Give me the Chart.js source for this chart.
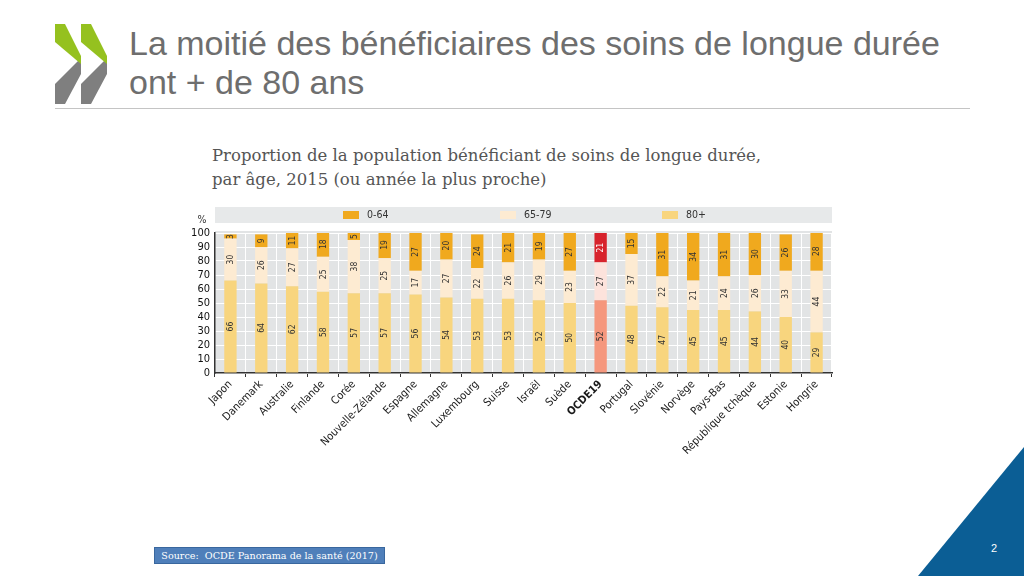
<!DOCTYPE html>
<html lang="fr">
<head>
<meta charset="utf-8">
<title>Soins de longue durée</title>
<script src="https://cdn.jsdelivr.net/npm/chart.js@4.4.1/dist/chart.umd.min.js"></script>
<style>
    html, body { margin: 0; padding: 0; background: #fff; }
    body { width: 1024px; height: 576px; position: relative; overflow: hidden; font-family: 'Liberation Sans', Arial, sans-serif; }
    #decor { position: absolute; left: 0; top: 0; }
    .titre { position: absolute; left: 129px; top: 24px; font-size: 34px; line-height: 39px; color: #6e6e6e; white-space: nowrap; }
    .filet { position: absolute; left: 55px; top: 108px; width: 915px; height: 1px; background: #c4c4c4; }
    .sous-titre { position: absolute; left: 212px; top: 144px; font-family: 'DejaVu Serif', Georgia, serif; font-size: 16.5px; line-height: 24px; color: #555; white-space: nowrap; }
    #cadre { position: absolute; left: 185px; top: 200px; width: 650px; height: 265px; }
    .source { position: absolute; left: 154px; top: 547px; width: 229px; height: 15px; background: #4f7fba; border: 1px solid #39679e;
              color: #fff; font-family: 'DejaVu Serif', Georgia, serif; font-size: 9.6px; line-height: 15px; text-align: center; white-space: nowrap; }
    .page { position: absolute; left: 991px; top: 542px; color: #fff; font-size: 11px; }
</style>
</head>
<body>

<svg id="decor" width="1024" height="576">
    <!-- logo -->
    <polygon points="55,104 55,84 81,58 81,74 65,104" fill="#7f7f7f"/>
    <polygon points="55,24 65,24 81,56 81,64 55,42" fill="#95c11f"/>
    <polygon points="81,104 81,84 107,58 107,74 91,104" fill="#7f7f7f"/>
    <polygon points="81,24 91,24 107,56 107,64 81,42" fill="#95c11f"/>
    <!-- coin -->
    <polygon points="1024,447 918,576 1024,576" fill="#0b5e95"/>
</svg>

<div class="titre">La moitié des bénéficiaires des soins de longue durée<br>ont + de 80 ans</div>
<div class="filet"></div>
<div class="sous-titre">Proportion de la population bénéficiant de soins de longue durée,<br>par âge, 2015 (ou année la plus proche)</div>

<div id="cadre"><canvas id="graphique"></canvas></div>

<div class="source">Source:&nbsp; OCDE Panorama de la santé (2017)</div>
<div class="page">2</div>

<script>
// ===== DONNÉES =====
const pays = ['Japon', 'Danemark', 'Australie', 'Finlande', 'Corée', 'Nouvelle-Zélande', 'Espagne', 'Allemagne',
              'Luxembourg', 'Suisse', 'Israël', 'Suède', 'OCDE19', 'Portugal', 'Slovénie', 'Norvège', 'Pays-Bas',
              'République tchèque', 'Estonie', 'Hongrie'];
const ans80plus = [66, 64, 62, 58, 57, 57, 56, 54, 53, 53, 52, 50, 52, 48, 47, 45, 45, 44, 40, 29];
const ans65a79  = [30, 26, 27, 25, 38, 25, 17, 27, 22, 26, 29, 23, 27, 37, 22, 21, 24, 26, 33, 44];
const ans0a64   = [ 3,  9, 11, 18,  5, 19, 27, 20, 24, 21, 19, 27, 21, 15, 31, 34, 31, 30, 26, 28];
const tranches  = ['80+', '65-79', '0-64'];

// ===== STYLE =====
const POLICE   = "'Liberation Sans Narrow', 'DejaVu Sans Condensed', 'Arial Narrow', sans-serif";
const IDX_OCDE = pays.indexOf('OCDE19');
const COULEURS = {
    '80+':   { normale: '#f8d57e', ocde: '#f5977d' },
    '65-79': { normale: '#fdebd2', ocde: '#fde3dc' },
    '0-64':  { normale: '#f0a91e', ocde: '#d7232c' },
};

function couleurBarre(tranche) {
    return c => c.dataIndex === IDX_OCDE ? COULEURS[tranche].ocde : COULEURS[tranche].normale;
}

// ===== PLUGIN — fond, légende, étiquettes =====
const habillage = {
    id: 'habillage',
    beforeDraw(chart) {
        const { ctx, chartArea: a } = chart;
        ctx.save();
        ctx.fillStyle = '#e7e9ea';
        ctx.fillRect(a.left, 7, a.right - a.left, 16);
        ctx.fillStyle = '#e2e4e5';
        ctx.fillRect(a.left, a.top - 2, a.right - a.left, a.bottom - a.top + 2);
        ctx.restore();
    },
    afterDatasetsDraw(chart) {
        const ctx = chart.ctx;
        ctx.save();
        ctx.font = '8.5px ' + POLICE;
        ctx.textAlign = 'center';
        ctx.textBaseline = 'middle';
        chart.data.datasets.forEach((ds, i) => {
            chart.getDatasetMeta(i).data.forEach((barre, j) => {
                const y = (barre.y + barre.base) / 2;
                ctx.save();
                ctx.translate(barre.x, y);
                ctx.rotate(-Math.PI / 2);
                ctx.fillStyle = (ds.label === '0-64' && j === IDX_OCDE) ? '#fff' : '#333';
                ctx.fillText(ds.data[j], 0, 0.5);
                ctx.restore();
            });
        });
        ctx.restore();
    },
    afterDraw(chart) {
        const { ctx, chartArea: a } = chart;
        const decalages = [128, 285, 447];
        ctx.save();
        ctx.font = '10.5px ' + POLICE;
        ctx.textBaseline = 'middle';
        chart.data.datasets.slice().reverse().forEach((ds, k) => {
            const x = a.left + decalages[k];
            ctx.fillStyle = COULEURS[ds.label].normale;
            ctx.fillRect(x, 11, 16, 8);
            ctx.fillStyle = '#333';
            ctx.fillText(ds.label, x + 24, 15);
        });
        ctx.textAlign = 'center';
        ctx.fillText('%', a.left - 13, 20);
        ctx.restore();
    }
};

// ===== GRAPHIQUE =====
const valeurs = { '80+': ans80plus, '65-79': ans65a79, '0-64': ans0a64 };

new Chart(document.getElementById('graphique'), {
    type: 'bar',
    data: {
        labels: pays,
        datasets: tranches.map(t => ({
            label:           t,
            data:            valeurs[t],
            backgroundColor: couleurBarre(t),
            barPercentage:   0.4,
            categoryPercentage: 1.0,
        }))
    },
    options: {
        responsive: true,
        maintainAspectRatio: false,
        animation: false,
        layout: { padding: { top: 33, right: 3, left: 0, bottom: 0 } },
        plugins: {
            legend:  { display: false },
            tooltip: { enabled: false }
        },
        scales: {
            x: {
                stacked: true,
                grid:   { color: '#ffffff', offset: true, tickColor: '#333', tickLength: 4 },
                border: { color: '#333', width: 1.5 },
                ticks: {
                    autoSkip: false, maxRotation: 45, minRotation: 45, padding: 1, color: '#1a1a1a',
                    font: c => ({ family: POLICE, size: 11, weight: c.index === IDX_OCDE ? 'bold' : 'normal' })
                },
                afterFit: s => { s.height = 92; }
            },
            y: {
                stacked: true,
                min: 0,
                max: 100,
                grid:   { color: '#ffffff', drawTicks: false },
                border: { color: '#333', width: 1.5 },
                ticks:  { stepSize: 10, autoSkip: false, padding: 5, color: '#111', font: { family: POLICE, size: 11 } },
                afterFit: s => { s.width = 30; }
            }
        }
    },
    plugins: [habillage]
});
</script>
</body>
</html>
